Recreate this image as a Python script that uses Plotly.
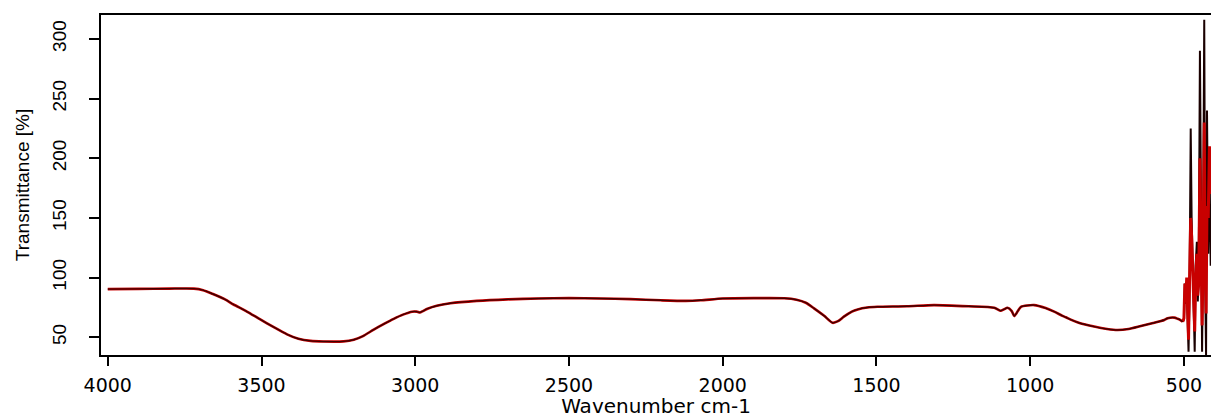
import plotly.graph_objects as go

# Smooth part of the spectrum (wavenumber cm-1, transmittance %)
wn_main = [4000, 3900, 3800, 3720, 3690, 3660, 3620, 3591, 3550, 3504, 3460, 3417,
           3380, 3340, 3300, 3233, 3200, 3170, 3135, 3100, 3070, 3040, 3010, 2995,
           2985, 2975, 2960, 2930, 2886, 2800, 2700, 2600, 2500, 2400, 2300, 2200,
           2120, 2072, 2000, 1900, 1800, 1760, 1730, 1703, 1670, 1643, 1625, 1606,
           1580, 1561, 1530, 1497, 1400, 1313, 1200, 1117, 1096, 1085, 1074, 1060,
           1052, 1045, 1030, 987, 950, 922, 895, 884, 870, 840, 792, 750, 716, 680,
           640, 600, 564, 553, 531, 520, 515, 504]
t_main = [90.4, 90.6, 90.8, 90.8, 89.5, 86.5, 82.0, 77.5, 72.0, 65.0, 58.5, 52.5,
          48.8, 47.0, 46.5, 46.6, 48.0, 51.0, 56.5, 61.5, 65.5, 69.0, 71.5, 71.5,
          70.8, 72.0, 74.0, 76.5, 78.5, 80.5, 81.8, 82.5, 82.8, 82.5, 82.0, 81.0,
          80.5, 81.0, 82.5, 82.8, 82.7, 81.5, 79.0, 74.3, 68.0, 62.2, 63.5, 67.3,
          71.5, 73.4, 75.0, 75.6, 76.0, 77.0, 76.0, 74.8, 72.3, 73.5, 74.8, 72.0,
          67.8, 70.0, 75.6, 77.0, 74.5, 71.5, 68.0, 66.8, 65.0, 62.0, 59.0, 57.0,
          56.1, 57.0, 59.5, 62.0, 64.5, 66.0, 66.5, 65.5, 65.0, 63.0]

# Noisy low-wavenumber region: black and red traces
wn_black = [504, 500, 497, 494, 491, 488, 485, 482, 478, 475, 472, 468, 465, 462,
            458, 455, 452, 448, 444, 441, 438, 434, 431, 428, 425, 421, 417, 413, 410]
t_black = [63, 65, 95, 78, 90, 60, 38, 85, 225, 150, 120, 60, 38, 110,
           130, 80, 100, 290, 150, 38, 120, 316, 100, 35, 240, 120, 200, 110, 150]

wn_red = [504, 500, 497, 494, 491, 488, 485, 482, 478, 475, 472, 468, 465, 462,
          458, 455, 452, 448, 444, 441, 438, 434, 431, 428, 425, 421, 417, 413, 410]
t_red = [63, 66, 95, 80, 100, 75, 48, 95, 150, 135, 110, 75, 55, 100,
         120, 85, 95, 200, 140, 60, 110, 230, 120, 70, 160, 150, 210, 170, 200]

x_ticks = [4000, 3500, 3000, 2500, 2000, 1500, 1000, 500]
y_ticks = [50, 100, 150, 200, 250, 300]

RED = "#c80000"
BLACK = "#1a0000"
SANS = "Liberation Sans, Arial, sans-serif"

fig = go.Figure()
fig.add_trace(go.Scatter(x=wn_main, y=t_main, mode="lines",
                         line=dict(color=RED, width=2.6, shape="spline", smoothing=0.6),
                         hoverinfo="skip", showlegend=False))
fig.add_trace(go.Scatter(x=wn_black, y=t_black, mode="lines",
                         line=dict(color=BLACK, width=2.0), showlegend=False))
fig.add_trace(go.Scatter(x=wn_red, y=t_red, mode="lines",
                         line=dict(color=RED, width=3.0), showlegend=False))
fig.add_trace(go.Scatter(x=wn_main, y=t_main, mode="lines",
                         line=dict(color=BLACK, width=1.4, shape="spline", smoothing=0.6),
                         opacity=0.8, showlegend=False))

fig.update_layout(
    width=1211, height=418,
    margin=dict(l=101, r=0, t=15, b=63, autoexpand=False),
    paper_bgcolor="white", plot_bgcolor="white",
    font=dict(family="DejaVu Sans", color="black"),
    xaxis=dict(
        range=[4022, 412], tickmode="array", tickvals=x_ticks,
        ticktext=[str(v) for v in x_ticks],
        showgrid=False, zeroline=False, automargin=False,
        showline=True, linecolor="black", linewidth=1.6, mirror=True,
        ticks="outside", ticklen=9, tickwidth=1.6, tickcolor="black",
        tickfont=dict(family="DejaVu Sans", size=19, color="black"),
        ticklabelstandoff=3,
        title=dict(text="Wavenumber cm-1", standoff=1,
                   font=dict(family="DejaVu Sans", size=20, color="black")),
    ),
    yaxis=dict(
        range=[35.2, 320], tickmode="array", tickvals=y_ticks,
        ticktext=[str(v) for v in y_ticks],
        showgrid=False, zeroline=False, automargin=False,
        showline=True, linecolor="black", linewidth=1.6, mirror=False,
        ticks="outside", ticklen=10, tickwidth=1.6, tickcolor="black",
        tickangle=-90,
        tickfont=dict(family=SANS, size=19, color="black"),
        ticklabelstandoff=16,
        title=dict(text="Transmittance [%]", standoff=14,
                   font=dict(family=SANS, size=19, color="black")),
    ),
)

fig.write_html("out.html",
               config={"displayModeBar": False},
               post_script="document.body.style.margin='0';document.body.style.overflow='hidden';")
